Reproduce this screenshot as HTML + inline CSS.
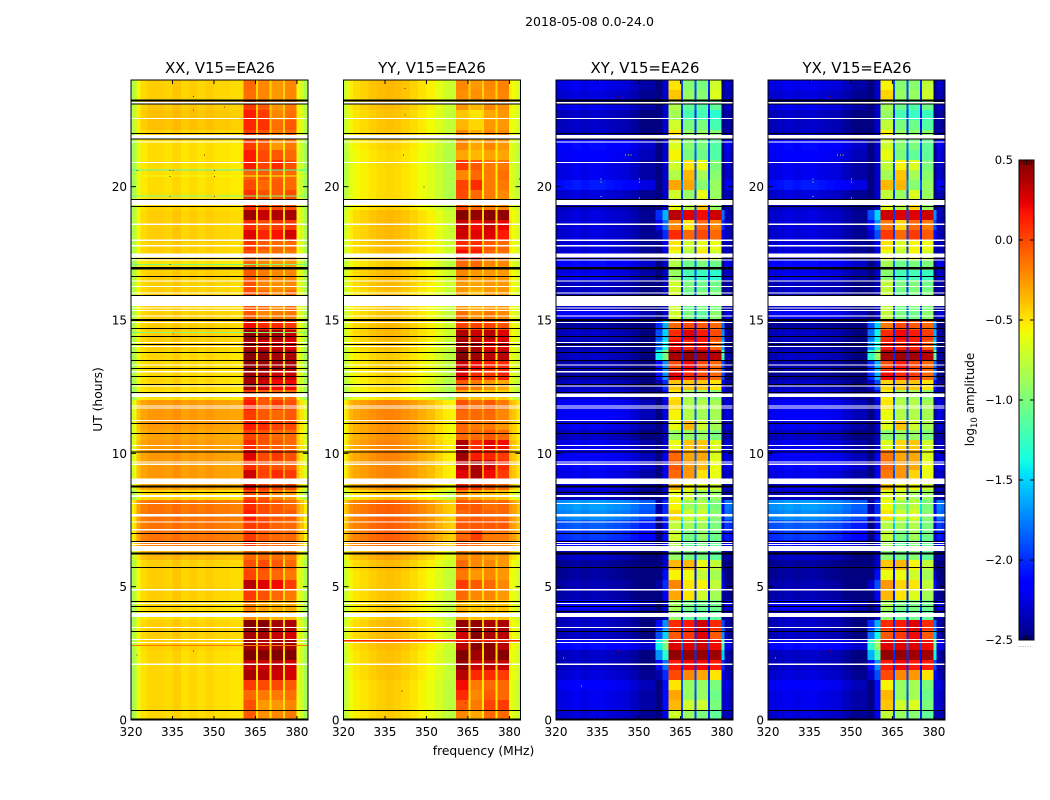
<!DOCTYPE html>
<html>
<head>
<meta charset="utf-8">
<title>2018-05-08 amplitude waterfall</title>
<style>
html,body{margin:0;padding:0;background:#fff;}
svg{display:block;font-family:"DejaVu Sans","Liberation Sans",sans-serif;}
</style>
</head>
<body>
<svg id="chart" xmlns="http://www.w3.org/2000/svg" width="1050" height="800" viewBox="0 0 1050 800">
  <rect x="0" y="0" width="1050" height="800" fill="#fff"/>
  <text x="589.5" y="26" font-size="12.5" text-anchor="middle">2018-05-08 0.0-24.0</text>
  <text x="220" y="73" font-size="14.9" text-anchor="middle">XX, V15=EA26</text>
  <text x="432" y="73" font-size="14.9" text-anchor="middle">YY, V15=EA26</text>
  <text x="645" y="73" font-size="14.9" text-anchor="middle">XY, V15=EA26</text>
  <text x="857" y="73" font-size="14.9" text-anchor="middle">YX, V15=EA26</text>
  <text x="483.5" y="755" font-size="12.3" text-anchor="middle">frequency (MHz)</text>
  <text transform="translate(102,399.5) rotate(-90)" font-size="12.3" text-anchor="middle">UT (hours)</text>
  <text transform="translate(974,399.5) rotate(-90)" font-size="12" text-anchor="middle">log<tspan font-size="8.5" dy="3">10</tspan><tspan dy="-3"> amplitude</tspan></text>
  <text x="1018" y="647" font-size="6" fill="#777" letter-spacing="0.4">......</text>
  <g id="panels"></g>
  <g id="colorbar"></g>
</svg>
<script>
// Frequency channel edges (MHz) shared by all panels
const frequencyEdges = [320,321,322,323.5,326,329,332,335,338,341,344,347,350,353,356,358.5,360.6,365.2,366,370,370.8,375,375.7,379.8,381,382.5,384];
// Which row value feeds each channel: 0 floor, 1-4 sub-bands, 5 band wing
const parallelSources = [0,0,0,0,0,0,0,0,0,0,0,0,0,0,0,0,1,0,2,0,3,0,4,0,0,0];
const crossSources = [0,0,0,0,0,0,0,0,0,0,0,0,0,0,5,5,1,0,2,0,3,0,4,5,0,0];
// log10 amplitude offsets per channel
const xxChannelOffsets = [-.42,-.35,-.15,-.04,0,0,-.02,.02,-.03,0,-.03,0,-.03,-.03,-.05,-.05,0,-.03,0,-.03,0,-.03,0,-.15,-.25,-.4];
const yyChannelOffsets = [-.3,-.2,-.1,-.05,-.02,.02,.05,.07,.05,.02,-.02,-.07,-.12,-.2,-.27,-.3,0,-.02,0,-.02,0,-.02,0,-.12,-.15,-.25];
const xyChannelOffsets = [-.05,-.05,-.05,-.03,0,-.03,0,0,-.03,-.05,-.07,-.13,-.2,-.2,-.4,0,0,.3,0,.3,0,.2,0,-.2,-.1,-.15];
const yxChannelOffsets = [-.05,-.05,-.05,-.03,0,-.03,0,0,-.03,-.05,-.07,-.13,-.2,-.2,-.4,0,0,.3,0,.3,0,.2,0,-.2,-.1,-.15];
// Time row duration in hours; rows run from 24 h downward
const timeRowStep = 0.375;
// Rows: [floor, band1, band2, band3, band4]
const xxRows = [
[-.42,-.1,-.2,-.25,-.2],[-.42,-.12,-.2,-.25,-.2],[-.4,.05,-.05,-.25,-.15],[-.38,.15,.05,-.2,-.12],
[-.38,.12,.08,-.12,-.05],[-.42,.05,-.02,-.15,-.1],[-.47,.05,-.05,-.25,-.15],[-.47,.15,0,-.05,-.1],
[-.47,.15,.02,.1,-.02],[-.47,-.08,-.05,-.08,-.1],[-.47,0,-.1,-.05,-.1],[-.47,.08,-.02,-.05,0],
[-.45,.1,0,0,0],[-.42,.42,.32,.38,.4],[-.42,.1,0,.05,.05],[-.42,.25,.12,.18,.28],
[-.42,.05,-.05,-.1,-.1],[-.42,0,-.1,-.12,-.15],[-.48,-.1,-.2,-.25,-.25],[-.42,-.05,-.15,-.2,-.2],
[-.42,-.02,-.18,-.22,-.2],[-.42,-.02,-.1,-.2,-.1],[-.42,-.02,-.1,-.2,-.1],[-.42,-.05,-.2,-.15,-.15],
[-.42,.2,.1,.1,.05],[-.42,.45,.42,.4,.3],[-.42,.38,.3,.3,.25],[-.45,.48,.45,.4,.4],
[-.45,.45,.42,.4,.4],[-.45,.42,.38,.3,.3],[-.45,.4,.3,.2,.2],[-.48,.05,-.05,-.1,-.1],
[-.25,.15,-.05,.05,-.02],[-.25,.05,-.05,-.1,-.05],[-.25,.15,.1,.02,0],[-.28,.02,-.02,-.1,-.1],
[-.25,.1,-.02,-.05,-.1],[-.25,.25,0,.05,-.02],[-.25,.1,0,-.03,-.05],[-.25,.3,.02,.1,.05],
[-.28,.2,.05,0,0],[-.45,0,-.05,-.2,-.25],[-.13,.1,0,-.05,-.1],[-.13,.15,0,-.05,-.05],
[-.13,.05,.02,-.08,-.1],[-.13,.05,-.05,-.1,-.1],[-.15,.1,-.05,-.1,-.1],[-.35,-.1,-.12,-.12,-.15],
[-.42,-.02,0,-.05,-.1],[-.42,.02,-.05,-.1,-.15],[-.42,.35,.25,.2,.05],[-.42,.05,-.02,-.1,-.15],
[-.45,-.18,-.28,-.32,-.3],[-.48,-.2,-.3,-.35,-.35],[-.42,.48,.48,.4,.38],[-.42,.4,.4,.32,.28],
[-.42,.42,.35,.4,.4],[-.45,.5,.48,.5,.5],[-.45,.32,.3,.35,.28],[-.45,.4,.35,.3,.28],
[-.45,.05,0,0,-.05],[-.45,-.1,-.15,-.15,-.12],[-.45,-.02,-.25,-.25,-.2],[-.45,-.05,-.22,-.2,-.15]
];
const yyRows = [
[-.42,-.2,-.25,-.2,-.18],[-.42,-.22,-.22,-.22,-.2],[-.42,-.25,-.35,-.2,-.22],[-.45,-.4,-.5,-.3,-.25],
[-.45,-.35,-.45,-.25,-.25],[-.45,-.2,-.3,-.2,-.2],[-.5,-.2,-.3,-.2,-.25],[-.52,-.3,-.35,-.3,-.3],
[-.52,.05,-.05,-.15,-.15],[-.52,-.2,-.1,-.15,-.12],[-.52,.02,.1,-.15,-.15],[-.52,0,-.1,-.15,-.2],
[-.5,0,-.1,-.15,-.2],[-.42,.48,.45,.48,.45],[-.42,.32,.2,.32,.22],[-.42,.3,.25,.25,.15],
[-.42,.1,.1,-.05,-.1],[-.42,.2,.15,-.1,-.12],[-.48,-.1,-.1,-.2,-.2],[-.42,-.2,-.25,-.25,-.25],
[-.42,-.25,-.3,-.25,-.25],[-.45,-.25,-.35,-.25,-.25],[-.45,-.25,-.3,-.25,-.25],[-.45,-.12,-.22,-.15,-.2],
[-.42,.02,.02,.02,-.02],[-.42,.38,.3,.35,.25],[-.45,.4,.38,.25,.28],[-.48,.48,.42,.35,.35],
[-.48,.3,.2,.12,.1],[-.5,.25,.1,.05,.12],[-.52,-.05,-.15,-.25,-.3],[-.55,-.3,-.38,-.4,-.42],
[-.25,-.02,-.1,-.05,-.15],[-.25,-.1,-.1,-.1,-.2],[-.28,-.1,-.15,-.15,-.25],[-.28,-.1,-.1,-.05,-.1],
[-.25,.38,.1,.25,.2],[-.25,.42,.15,.12,.05],[-.25,.35,.4,.3,.1],[-.25,.25,.4,.2,.05],
[-.28,.1,.05,-.05,-.1],[-.45,-.2,-.3,-.35,-.38],[-.13,-.05,-.05,-.12,-.1],[-.13,-.1,-.05,-.08,-.1],
[-.13,-.05,-.05,-.05,-.05],[-.13,-.1,.05,-.15,-.15],[-.15,-.05,-.1,-.2,-.2],[-.35,-.2,-.2,-.25,-.25],
[-.42,-.1,-.2,-.2,-.25],[-.45,-.15,-.25,-.2,-.25],[-.45,.05,-.05,-.1,-.2],[-.45,-.1,-.2,-.2,-.25],
[-.48,-.35,-.4,-.38,-.4],[-.48,-.3,-.4,-.4,-.4],[-.42,.45,.45,.4,.38],[-.42,.3,.48,.4,.35],
[-.42,.35,.48,.48,.35],[-.45,.5,.42,.48,.48],[-.45,.45,.3,.35,.32],[-.45,.35,.1,.1,.05],
[-.48,.2,-.15,-.1,-.1],[-.48,.1,-.2,-.05,-.1],[-.48,-.05,-.15,.02,.05],[-.48,-.2,-.3,-.1,-.1]
];
// Rows: [floor, band1, band2, band3, band4, wing]
const xyRows = [
[-2.2,-.5,-.95,-1,-.7,-2.3],[-2.25,-.4,-.9,-.95,-.65,-2.3],[-2.2,-.8,-1.1,-1.15,-1.1,-2.3],[-2.3,-.85,-1.2,-1.2,-1.3,-2.3],
[-2.3,-.7,-1,-1,-1.2,-2.3],[-2.3,-.5,-.9,-.9,-.95,-2.3],[-2.1,-.65,-.95,-1,-1.15,-2.3],[-2.15,-.55,-1,-1.05,-1.15,-2.3],
[-2.2,-.7,-.5,-.6,-1,-2.3],[-2.2,-.8,-.35,-.85,-.95,-2.3],[-2.05,-.3,-.3,-.95,-.9,-2.3],[-2.25,-.7,-.9,-.6,-.9,-2.3],
[-2.3,-.6,-.8,-.4,-.9,-2.3],[-2.25,.35,.25,.2,.3,-1.6],[-2.25,-.2,-.5,-.1,-.2,-1.8],[-2.25,.1,-.1,0,-.1,-2],
[-2.25,-.5,-.7,-.6,-.6,-2.2],[-2.25,-.6,-.8,-.5,-.7,-2.25],[-2.1,-.8,-1.05,-1,-1.05,-2.3],[-2.2,-.9,-1.2,-1.25,-1.3,-2.3],
[-2.3,-.7,-1,-1.05,-1.05,-2.35],[-2.3,-.7,-1.05,-1,-1,-2.35],[-2.3,-.7,-1.05,-1,-1,-2.35],[-2.15,-.7,-1,-1.1,-.95,-2.3],
[-2.4,-.1,0,-.05,-.1,-1.6],[-2.3,.1,.25,.15,0,-1.5],[-2.35,.2,.1,.15,-.1,-1.4],[-2.3,.4,.45,.4,.35,-1],
[-2.35,0,.2,0,-.1,-1.7],[-2.4,.25,.1,0,-.1,-1.7],[-2.3,-.4,-.4,-.4,-.5,-2],[-2.25,-.5,-.85,-.9,-.95,-2.1],
[-2.15,-.45,-.8,-.8,-.85,-2.25],[-2.15,-.55,-.8,-.85,-.85,-2.25],[-2.2,-.6,-.35,-.7,-.85,-2.3],[-2.3,-.9,-.9,-.9,-1,-2.35],
[-2.2,-.6,-.4,-.4,-.65,-2.3],[-2.15,-.1,-.3,-.3,-.65,-2.2],[-2.1,-.05,-.25,-.35,-.6,-2.2],[-2.2,-.1,-.25,-.5,-.6,-2.2],
[-2.2,-.35,-.55,-.6,-.7,-2.25],[-2.3,-.6,-.7,-.9,-.9,-2.3],[-1.65,-.55,-.85,-.8,-1,-2],[-1.7,-.45,-.7,-.7,-.95,-2],
[-1.85,-.75,-.85,-.85,-1,-2.1],[-1.95,-.7,-1,-.9,-1.05,-2.1],[-2.1,-.8,-1.1,-1,-1.1,-2.2],[-2.3,-.9,-1,-1,-1.1,-2.3],
[-2.4,-.35,-.35,-.6,-.75,-2.3],[-2.4,-.55,-.6,-.75,-.85,-2.1],[-2.35,-.2,-.5,-.55,-.75,-2],[-2.35,-.3,-.5,-.7,-.85,-2.2],
[-2.15,-.85,-1,-1.05,-1.05,-2.3],[-2.3,-.9,-1.1,-1.1,-1.1,-2.35],[-2.3,.1,.15,.3,.1,-1.7],[-2.3,-.05,.05,.25,-.05,-1.5],
[-2.1,.25,.25,.3,.2,-1],[-2.3,.45,.45,.45,.42,-1.3],[-2.3,.15,.2,.2,.15,-1.8],[-2.25,0,-.2,-.3,-.5,-2],
[-2.15,-.5,-.9,-.9,-1,-2.1],[-2.2,-.3,-.9,-.9,-1.05,-2.1],[-2.2,-.35,-.7,-.7,-1,-2.1],[-2.25,-.7,-.9,-1,-1.1,-2.2]
];
const yxRows = [
[-2.2,-.55,-.95,-.95,-.75,-2.3],[-2.25,-.45,-.9,-.9,-.7,-2.3],[-2.2,-.85,-1.05,-1.15,-1.05,-2.3],[-2.3,-.9,-1.2,-1.25,-1.25,-2.3],
[-2.3,-.75,-1,-1.05,-1.15,-2.3],[-2.3,-.55,-.9,-.95,-.95,-2.3],[-2.1,-.7,-.95,-1,-1.1,-2.3],[-2.15,-.6,-1,-1.1,-1.1,-2.3],
[-2.2,-.75,-.55,-.65,-1,-2.3],[-2.2,-.85,-.4,-.85,-.95,-2.3],[-2.05,-.35,-.35,-.95,-.9,-2.3],[-2.25,-.75,-.9,-.65,-.9,-2.3],
[-2.3,-.65,-.8,-.45,-.9,-2.3],[-2.25,.3,.25,.25,.3,-1.5],[-2.25,-.15,-.45,-.1,-.15,-1.7],[-2.25,.05,-.1,.05,-.05,-1.9],
[-2.25,-.5,-.65,-.55,-.6,-2.2],[-2.25,-.6,-.75,-.55,-.7,-2.25],[-2.1,-.85,-1.05,-1,-1,-2.3],[-2.2,-.95,-1.2,-1.2,-1.25,-2.3],
[-2.3,-.75,-1,-1,-1.05,-2.35],[-2.3,-.75,-1.05,-1,-1,-2.35],[-2.3,-.75,-1.05,-1,-1,-2.35],[-2.15,-.75,-1,-1.05,-.95,-2.3],
[-2.4,-.15,0,-.05,-.1,-1.5],[-2.3,.1,.2,.15,.05,-1.4],[-2.35,.15,.1,.15,-.05,-1.3],[-2.3,.4,.42,.4,.35,-.9],
[-2.35,0,.15,0,-.1,-1.6],[-2.4,.2,.1,.05,-.1,-1.6],[-2.3,-.45,-.4,-.4,-.5,-1.9],[-2.25,-.55,-.85,-.85,-.95,-2.1],
[-2.15,-.5,-.8,-.8,-.85,-2.25],[-2.15,-.6,-.8,-.8,-.85,-2.25],[-2.2,-.65,-.4,-.7,-.85,-2.3],[-2.3,-.95,-.9,-.9,-1,-2.35],
[-2.2,-.65,-.45,-.4,-.7,-2.3],[-2.15,-.15,-.3,-.3,-.65,-2.2],[-2.1,-.1,-.25,-.3,-.6,-2.2],[-2.2,-.15,-.25,-.45,-.6,-2.2],
[-2.2,-.4,-.55,-.55,-.7,-2.25],[-2.3,-.65,-.7,-.85,-.9,-2.3],[-1.65,-.6,-.85,-.75,-1,-2],[-1.7,-.5,-.7,-.65,-.95,-2],
[-1.85,-.8,-.85,-.8,-1,-2.1],[-1.95,-.75,-1,-.85,-1.05,-2.1],[-2.1,-.85,-1.1,-.95,-1.1,-2.2],[-2.3,-.95,-1,-.95,-1.1,-2.3],
[-2.4,-.4,-.35,-.55,-.75,-2.3],[-2.4,-.6,-.6,-.7,-.85,-2.1],[-2.35,-.25,-.45,-.5,-.75,-1.9],[-2.35,-.35,-.5,-.65,-.85,-2.2],
[-2.15,-.85,-1,-1,-1.05,-2.3],[-2.3,-.95,-1.1,-1.05,-1.1,-2.35],[-2.3,.1,.15,.25,.1,-1.6],[-2.3,-.05,.05,.2,-.05,-1.4],
[-2.1,.25,.25,.25,.2,-.9],[-2.3,.45,.45,.42,.42,-1.2],[-2.3,.15,.2,.15,.15,-1.7],[-2.25,0,-.2,-.25,-.5,-1.9],
[-2.15,-.55,-.9,-.85,-1,-2.1],[-2.2,-.35,-.9,-.85,-1.05,-2.1],[-2.2,-.4,-.7,-.65,-1,-2.1],[-2.25,-.75,-.9,-.95,-1.1,-2.2]
];
// Missing data (white) intervals, [start hour, end hour]
const blankIntervals = [
[23.12,23.18],[22.54,22.58],[21.8,21.94],[21.66,21.69],[20.9,20.93],[19.31,19.5],[18.57,18.61],[17.97,18.01],
[17.76,17.81],[17.35,17.5],[17.23,17.27],[16.46,16.49],[16.24,16.28],[16,16.04],[15.53,15.9],[15.43,15.47],
[15.35,15.38],[15.13,15.17],[14.88,14.92],[14.14,14.18],[13.98,14.02],[13.31,13.34],[13.04,13.08],[12.51,12.54],
[12.12,12.24],[11.76,11.79],[11.68,11.72],[11.21,11.25],[10.27,10.31],[10.14,10.17],[9.66,9.69],[9.57,9.61],
[8.85,9.06],[8.37,8.44],[8.1,8.14],[7.63,7.73],[7.41,7.44],[7.11,7.16],[6.63,6.67],[6.56,6.6],[6.34,6.53],
[4.86,4.91],[4.35,4.39],[3.86,4.01],[3.45,3.49],[3,3.04],[2.89,2.93],[2.06,2.12]
];
// Zero-amplitude (black) intervals, [start hour, end hour]
const zeroIntervals = [
[23.19,23.27],[23.08,23.12],[21.98,22.01],[21.76,21.8],[19.5,19.54],[19.25,19.28],[17.28,17.32],[16.9,16.98],
[16.61,16.65],[15.9,15.94],[14.97,15.04],[14.66,14.7],[14.36,14.4],[14.06,14.1],[13.76,13.8],[13.46,13.5],
[13.16,13.2],[12.86,12.9],[12.56,12.6],[12.26,12.3],[11.1,11.14],[10.73,10.76],[10.03,10.07],[8.72,8.79],
[8.51,8.55],[6.98,7.01],[6.68,6.71],[6.21,6.28],[5.7,5.74],[4.43,4.46],[4.24,4.28],[4.05,4.09],[3.3,3.34],
[.34,.38],[0,.06]
];
// Narrow bad rows: [hour, log10 amplitude]
const xxBadRows = [[20.63,-1.2],[20.4,-.6],[19.65,-1],[17.25,-.9],[17.09,-1],[14.53,-1],[2.79,-.15]];
const yyBadRows = [[17.25,-.7],[2.96,.1],[2.98,.1]];
const xyBadRows = [[17.25,-1.6]];
const yxBadRows = [[17.25,-1.6]];
// Isolated bright samples: [frequency, hour, log10 amplitude]
const xxSpeckles = [[342.5,23.4,.4],[342.5,23.18,.3],[342.5,22.9,.4],[353.6,23,.3],[346.4,21.2,.3],[322,20.63,.3],[334,20.63,.3],[334,20.4,.3],[334,19.65,.3],[335,20.63,.2],[350,20.63,.3],[350,20.4,.2],[350,19.65,.2],[348.5,15.9,.2],[322,2.45,.3],[342.5,2.6,.4],[335,14.5,.3],[334,17.1,.3]];
const yySpeckles = [[342,23.7,.4],[342,22.7,.4],[341.5,21.2,.4],[383.5,20.3,.4],[349,20,.4],[341,1.1,.4],[364,.65,.4]];
const xySpeckles = [[346,21.2,-.4],[347,21.2,-.9],[345,21.2,-.9],[336,20.3,-.8],[336,20.2,-.9],[350,20.3,-.8],[350,20.2,-.9],[350,19.6,-.9],[336,19.65,-.8],[342.5,23.4,.4],[342.5,23.18,.2],[322.5,2.35,-.9],[329,1.3,-1.2],[342.5,2.6,.3]];
const yxSpeckles = [[346,21.2,-.4],[347,21.2,-.9],[345,21.2,-.9],[336,20.3,-.8],[336,20.2,-.9],[350,20.3,-.8],[350,20.2,-.9],[350,19.6,-.9],[336,19.65,-.8],[342.5,23.4,.4],[342.5,23.18,.2],[322.5,2.35,-.9],[342.5,2.6,.3]];
// Axis ticks
const frequencyTicks = [320,335,350,365,380];
const hourTicks = [0,5,10,15,20];
const colorbarTicks = [-2.5,-2,-1.5,-1,-.5,0,.5];
const colorbarTickLabels = ["\u22122.5","\u22122.0","\u22121.5","\u22121.0","\u22120.5","0.0","0.5"];

const SVG_NS = "http://www.w3.org/2000/svg";
const FREQ_MIN = 320, FREQ_MAX = 384, HOUR_MAX = 24;
const PLOT_TOP = 80, PLOT_BOTTOM = 720, PANEL_WIDTH = 177;
const COLOR_MIN = -2.5, COLOR_MAX = 0.5;

function make(tag, attrs, parent) {
  const node = document.createElementNS(SVG_NS, tag);
  for (const key in attrs) node.setAttribute(key, attrs[key]);
  parent.appendChild(node);
  return node;
}
function ramp(t, knots) {
  for (let i = 1; i < knots.length; i++) {
    if (t <= knots[i][0]) {
      const a = knots[i - 1], b = knots[i];
      return a[1] + (b[1] - a[1]) * (t - a[0]) / (b[0] - a[0]);
    }
  }
  return knots[knots.length - 1][1];
}
const jetRed = [[0,0],[.35,0],[.66,1],[.89,1],[1,.5]];
const jetGreen = [[0,0],[.125,0],[.375,1],[.64,1],[.91,0],[1,0]];
const jetBlue = [[0,.5],[.11,1],[.34,1],[.65,0],[1,0]];
function jetColor(value) {
  const t = Math.max(0, Math.min(1, (value - COLOR_MIN) / (COLOR_MAX - COLOR_MIN)));
  const r = Math.round(255 * ramp(t, jetRed));
  const g = Math.round(255 * ramp(t, jetGreen));
  const b = Math.round(255 * ramp(t, jetBlue));
  return "rgb(" + r + "," + g + "," + b + ")";
}
function yScale(hour) {
  return PLOT_BOTTOM - hour / HOUR_MAX * (PLOT_BOTTOM - PLOT_TOP);
}
function xScale(left, freq) {
  return left + (freq - FREQ_MIN) / (FREQ_MAX - FREQ_MIN) * PANEL_WIDTH;
}

function drawPanel(root, key, left, rows, offsets, sources, badRows, speckles) {
  const group = make("g", {"shape-rendering": "crispEdges"}, root);
  
  
  rows.forEach(function (row, r) {
    const yTop = yScale(HOUR_MAX - r * timeRowStep);
    const yEnd = yScale(HOUR_MAX - (r + 1) * timeRowStep);
    offsets.forEach(function (offset, c) {
      const x0 = xScale(left, frequencyEdges[c]);
      const x1 = xScale(left, frequencyEdges[c + 1]);
      const value = row[sources[c]] + offset;
      const cell = make("rect", {x: x0, y: yTop, width: x1 - x0, height: yEnd - yTop, fill: jetColor(value)}, group);
      
      
    });
  });
  badRows.forEach(function (bad) {
    const line = make("rect", {x: left, y: yScale(bad[0]) - .5, width: PANEL_WIDTH, height: 1, fill: jetColor(bad[1])}, group);
    
    
  });
  speckles.forEach(function (s) {
    const dot = make("rect", {x: xScale(left, s[0]), y: yScale(s[1]), width: 1, height: 1, fill: jetColor(s[2])}, group);
    
    
  });
  blankIntervals.forEach(function (iv) {
    const blank = make("rect", {x: left, y: yScale(iv[1]), width: PANEL_WIDTH, height: Math.max(1, yScale(iv[0]) - yScale(iv[1])), fill: "#fff"}, group);
    
    
  });
  zeroIntervals.forEach(function (iv) {
    const zero = make("rect", {x: left, y: yScale(iv[1]), width: PANEL_WIDTH, height: Math.max(1, yScale(iv[0]) - yScale(iv[1])), fill: "#000"}, group);
    
    
  });

  const frame = make("rect", {x: left, y: PLOT_TOP, width: PANEL_WIDTH, height: PLOT_BOTTOM - PLOT_TOP, fill: "none", stroke: "#000", "stroke-width": 1}, root);
  
  

  frequencyTicks.forEach(function (f) {
    const x = xScale(left, f);
    const tickBottom = make("line", {x1: x, x2: x, y1: PLOT_BOTTOM, y2: PLOT_BOTTOM - 4, stroke: "#000"}, root);
    
    
    const tickTop = make("line", {x1: x, x2: x, y1: PLOT_TOP, y2: PLOT_TOP + 4, stroke: "#000"}, root);
    
    
    const label = make("text", {x: x, y: 736, "font-size": 12, "text-anchor": "middle"}, root);
    
    
    label.textContent = f;
  });
  hourTicks.forEach(function (h) {
    const y = yScale(h);
    const tickLeft = make("line", {x1: left, x2: left + 5, y1: y, y2: y, stroke: "#000"}, root);
    
    
    const tickRight = make("line", {x1: left + PANEL_WIDTH, x2: left + PANEL_WIDTH - 5, y1: y, y2: y, stroke: "#000"}, root);
    
    
    const label = make("text", {x: left - 4, y: y + 4.5, "font-size": 12, "text-anchor": "end"}, root);
    
    
    label.textContent = h;
  });
}

const panelsRoot = document.getElementById("panels");
drawPanel(panelsRoot, "xx", 131, xxRows, xxChannelOffsets, parallelSources, xxBadRows, xxSpeckles);
drawPanel(panelsRoot, "yy", 343.5, yyRows, yyChannelOffsets, parallelSources, yyBadRows, yySpeckles);
drawPanel(panelsRoot, "xy", 556, xyRows, xyChannelOffsets, crossSources, xyBadRows, xySpeckles);
drawPanel(panelsRoot, "yx", 768, yxRows, yxChannelOffsets, crossSources, yxBadRows, yxSpeckles);

(function drawColorbar() {
  const root = document.getElementById("colorbar");
  const left = 1019, width = 15, top = 160, bottom = 640, levels = 160;
  function barY(v) { return bottom - (v - COLOR_MIN) / (COLOR_MAX - COLOR_MIN) * (bottom - top); }
  const strip = make("g", {"shape-rendering": "crispEdges"}, root);
  
  
  for (let i = 0; i < levels; i++) {
    const v0 = COLOR_MIN + (COLOR_MAX - COLOR_MIN) * i / levels;
    const v1 = COLOR_MIN + (COLOR_MAX - COLOR_MIN) * (i + 1) / levels;
    const seg = make("rect", {x: left, y: barY(v1), width: width, height: barY(v0) - barY(v1) + .5, fill: jetColor((v0 + v1) / 2)}, strip);
    
    
  }
  const frame = make("rect", {x: left, y: top, width: width, height: bottom - top, fill: "none", stroke: "#000"}, root);
  
  
  colorbarTicks.forEach(function (v, i) {
    const y = barY(v);
    const a = make("line", {x1: left, x2: left + 4, y1: y, y2: y, stroke: "#000"}, root);
    
    
    const b = make("line", {x1: left + width, x2: left + width - 4, y1: y, y2: y, stroke: "#000"}, root);
    
    
    const label = make("text", {x: 1013, y: y + 4, "font-size": 11.5, "text-anchor": "end"}, root);
    
    
    label.textContent = colorbarTickLabels[i];
  });
  [0, 1, 2, 3, 4].forEach(function (n) {
    const x = left + 2.5 + n * 2.5;
    const upper = make("line", {x1: x, x2: x, y1: top, y2: top + 5, stroke: "#000", "stroke-width": .7}, root);
    
    
    const lower = make("line", {x1: x, x2: x, y1: bottom, y2: bottom - 5, stroke: "#000", "stroke-width": .7}, root);
    
    
  });
})();
</script>
</body>
</html>
